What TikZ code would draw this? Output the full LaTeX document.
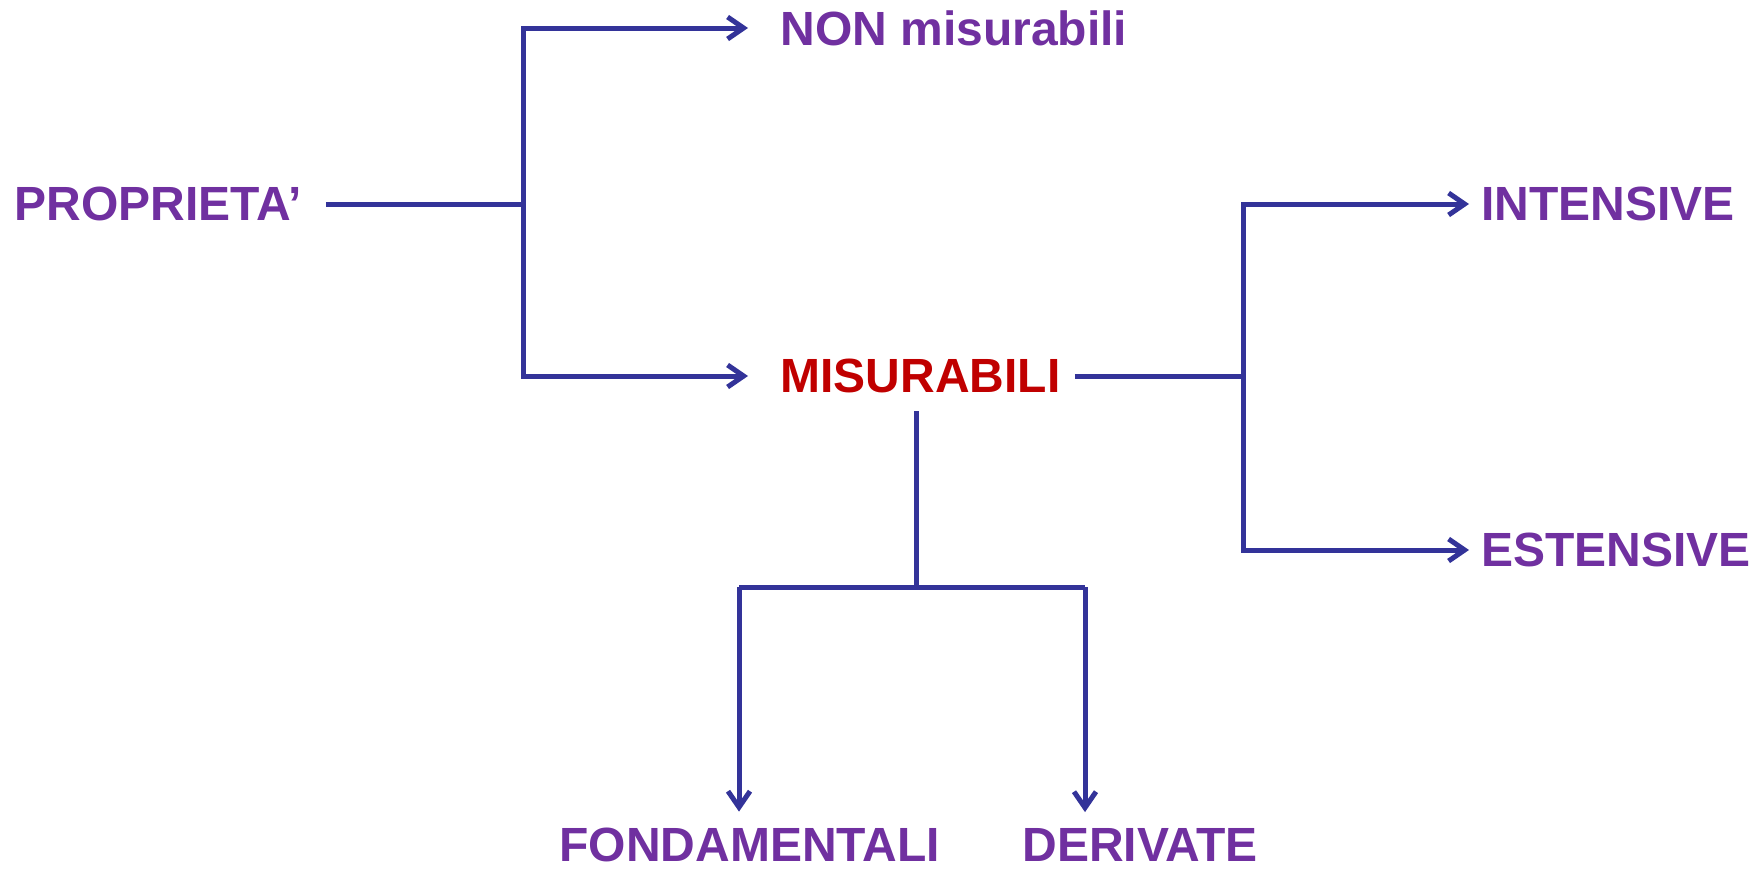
\documentclass[tikz,border=0pt]{standalone}
\usepackage{fontspec}
\setmainfont{Liberation Sans}
\usetikzlibrary{arrows.meta}
\definecolor{lblpurple}{HTML}{7030A0}
\definecolor{lblred}{HTML}{C00000}
\definecolor{linkblue}{HTML}{333399}

\tikzset{
  lbl/.style={anchor=west, inner sep=0pt, text=lblpurple, font=\fontsize{24}{28}\selectfont\bfseries},
  link/.style={draw=linkblue, line width=2.5pt},
  arr/.style={link, -{Straight Barb[length=8pt,width=11pt]}}
}

\begin{document}
\begin{tikzpicture}[x=0.5pt,y=-0.5pt]
\useasboundingbox (0,0) rectangle (1764,873);
\node [lbl] (prop) at (14,204) {PROPRIETA'};
\node [lbl] (non) at (780,28) {NON misurabili};
\node [lbl, text=lblred] (misu) at (780,376) {MISURABILI};
\node [lbl] (intens) at (1481,204) {INTENSIVE};
\node [lbl] (estens) at (1481,550) {ESTENSIVE};
\node [lbl] (fond) at (559,845) {FONDAMENTALI};
\node [lbl] (der) at (1022,845) {DERIVATE};

\coordinate (j1) at (523,204);
\coordinate (j2) at (1243,376);
\coordinate (jb) at (916,587);
\coordinate (bl) at (739,587);
\coordinate (br) at (1085,587);

% proprieta
\draw [link] ([xshift=12pt]prop.east) -- (j1);
\draw [arr, shorten >=16pt] (j1) |- (non.west);
\draw [arr, shorten >=16pt] (j1) |- (misu.west);
% misurabili
\draw [link] ([xshift=7pt]misu.east) -- (j2);
\draw [arr, shorten >=6pt] (j2) |- (intens.west);
\draw [arr, shorten >=6pt] (j2) |- (estens.west);
\draw [link] ([yshift=-9pt]misu.south -| jb) -- (jb);
\draw [link] (bl) -- (br);
\draw [arr, shorten >=8pt] (bl) -- (bl |- fond.north);
\draw [arr, shorten >=8pt] (br) -- (br |- der.north);
\end{tikzpicture}
\end{document}
